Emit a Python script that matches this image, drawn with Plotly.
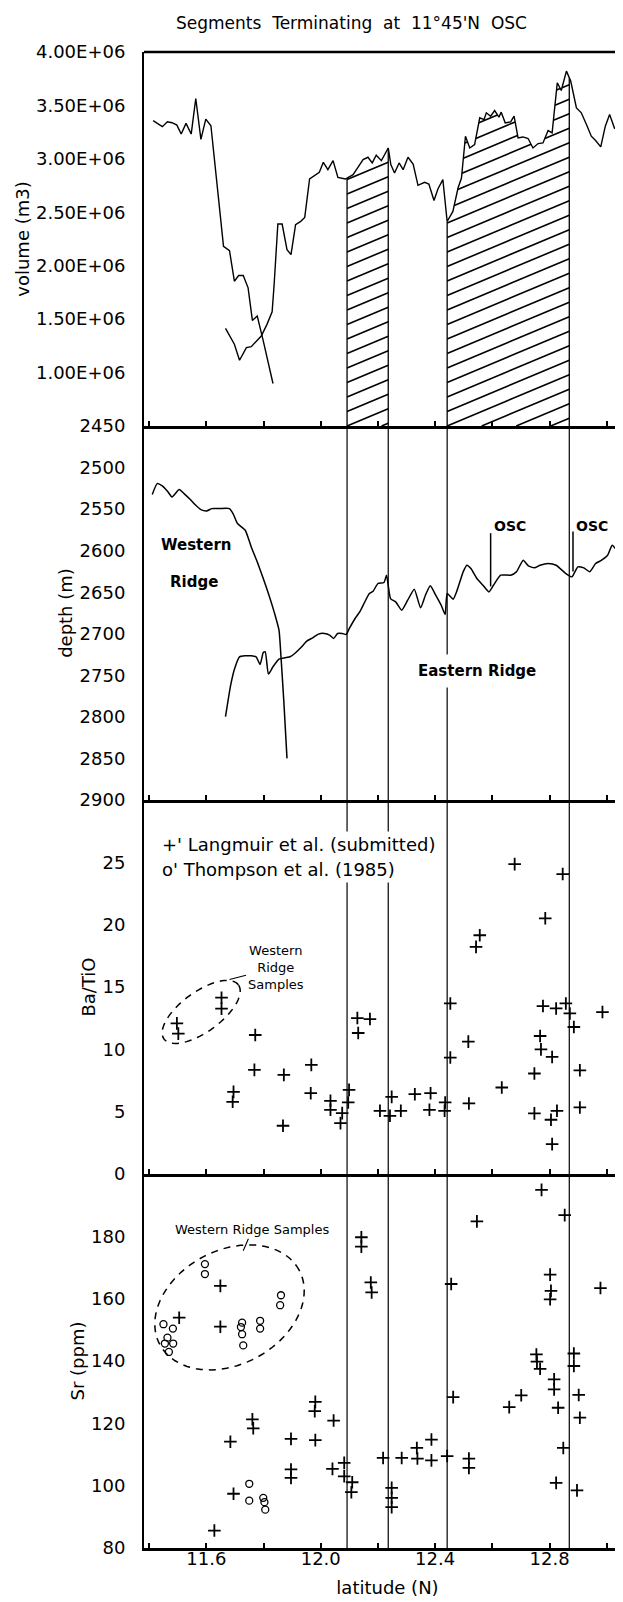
import numpy as np
import plotly.graph_objects as go
from plotly.subplots import make_subplots

# ---------------- data ----------------
# Panel 1: volume (m3) along the western and eastern ridge segments
WV_LAT = [11.414, 11.446, 11.464, 11.480, 11.497, 11.512, 11.529, 11.547, 11.563, 11.581,
          11.598, 11.616, 11.660, 11.681, 11.698, 11.713, 11.729, 11.746, 11.761, 11.778,
          11.799, 11.833]
WV_VOL = [3.357, 3.301, 3.347, 3.338, 3.316, 3.232, 3.332, 3.232, 3.565, 3.182,
          3.372, 3.310, 2.182, 2.141, 1.855, 1.908, 1.908, 1.793, 1.488, 1.529,
          1.296, 0.898]

EV_LAT = [11.667, 11.698, 11.716, 11.740, 11.757, 11.774, 11.792, 11.812, 11.830, 11.837,
          11.850, 11.865, 11.882, 11.896, 11.912, 11.930, 11.944, 11.961, 11.979, 11.995,
          12.009, 12.025, 12.043, 12.060, 12.086, 12.113, 12.130, 12.148, 12.165, 12.180,
          12.194, 12.212, 12.236, 12.245, 12.258, 12.274, 12.288, 12.305, 12.323, 12.340,
          12.363, 12.378, 12.396, 12.410, 12.427, 12.442, 12.462, 12.480, 12.492, 12.506,
          12.521, 12.538, 12.556, 12.571, 12.579, 12.594, 12.608, 12.623, 12.631, 12.645,
          12.664, 12.676, 12.690, 12.707, 12.725, 12.742, 12.760, 12.777, 12.795, 12.809,
          12.827, 12.841, 12.859, 12.874, 12.894, 12.911, 12.929, 12.946, 12.961, 12.979,
          12.995, 13.010, 13.028]
EV_VOL = [1.414, 1.265, 1.115, 1.233, 1.243, 1.296, 1.342, 1.451, 1.569, 1.824,
          2.390, 2.390, 2.150, 2.104, 2.384, 2.415, 2.452, 2.813, 2.850, 2.875,
          2.968, 2.899, 2.983, 2.827, 2.811, 2.852, 2.921, 2.993, 3.015, 2.962,
          3.034, 2.983, 3.102, 2.946, 2.868, 2.962, 2.899, 3.015, 2.952, 2.752,
          2.780, 2.765, 2.611, 2.721, 2.805, 2.414, 2.508, 2.727, 2.821, 3.212,
          3.102, 3.133, 3.384, 3.368, 3.431, 3.399, 3.452, 3.390, 3.437, 3.337,
          3.346, 3.399, 3.196, 3.205, 3.190, 3.102, 3.143, 3.149, 3.265, 3.243,
          3.712, 3.640, 3.821, 3.728, 3.477, 3.431, 3.321, 3.212, 3.171, 3.112,
          3.306, 3.415, 3.280]

# Segment boundaries (latitude) of the hatched segments
SEG_BOUNDS = [12.092, 12.236, 12.442, 12.869]

# Panel 2: depth (m)
DW_LAT = [11.411, 11.428, 11.446, 11.464, 11.480, 11.505, 11.522, 11.543, 11.563, 11.581,
          11.601, 11.619, 11.646, 11.681, 11.695, 11.709, 11.736, 11.757, 11.778, 11.799,
          11.819, 11.837, 11.854, 11.861, 11.871, 11.882]
DW_DEPTH = [2532.5, 2519.3, 2522.1, 2528.5, 2535.4, 2526.5, 2531.3, 2538.2, 2545.4, 2550.6,
            2552.2, 2549.4, 2549.4, 2549.4, 2556.6, 2567.4, 2575.4, 2595.5, 2613.5, 2633.5,
            2653.6, 2673.6, 2695.6, 2727.7, 2781.8, 2849.9]

DE_LAT = [11.667, 11.685, 11.699, 11.716, 11.736, 11.757, 11.774, 11.788, 11.799, 11.806,
          11.817, 11.833, 11.854, 11.875, 11.893, 11.909, 11.930, 11.951, 11.972, 11.992,
          12.013, 12.031, 12.045, 12.059, 12.075, 12.089, 12.100, 12.120, 12.138, 12.154,
          12.170, 12.183, 12.200, 12.221, 12.230, 12.244, 12.262, 12.283, 12.304, 12.327,
          12.349, 12.366, 12.383, 12.401, 12.421, 12.435, 12.442, 12.463, 12.477, 12.498,
          12.511, 12.525, 12.546, 12.567, 12.588, 12.604, 12.629, 12.664, 12.684, 12.708,
          12.726, 12.747, 12.767, 12.795, 12.823, 12.857, 12.878, 12.899, 12.920, 12.940,
          12.961, 12.982, 13.003, 13.019, 13.030]
DE_DEPTH = [2799.8, 2761.8, 2741.7, 2727.7, 2726.5, 2726.5, 2727.7, 2736.9, 2722.5, 2721.7,
            2748.5, 2739.7, 2730.5, 2728.9, 2727.7, 2723.7, 2716.9, 2708.9, 2704.8, 2700.4,
            2699.6, 2701.6, 2705.6, 2699.6, 2699.6, 2700.8, 2693.6, 2681.6, 2672.8, 2661.6,
            2651.6, 2648.8, 2639.5, 2638.3, 2629.5, 2657.6, 2661.6, 2671.6, 2659.6, 2646.3,
            2668.8, 2653.6, 2642.3, 2652.8, 2665.6, 2676.8, 2651.6, 2658.4, 2647.5, 2625.5,
            2617.5, 2621.5, 2633.5, 2641.5, 2649.6, 2641.5, 2629.5, 2629.5, 2625.5, 2611.5,
            2618.3, 2620.7, 2617.5, 2615.5, 2617.5, 2627.5, 2631.5, 2619.5, 2620.7, 2625.5,
            2615.5, 2611.5, 2605.5, 2593.5, 2597.5]

# OSC markers (latitude, top depth, bottom depth)
OSC_LAT = [12.594, 12.882]
OSC_TOP = [2579, 2577]
OSC_BOT = [2643, 2625]

# Panel 3: Ba/TiO (Langmuir et al.)
BA_LAT = [11.497, 11.502, 11.653, 11.653, 11.695, 11.692, 11.771, 11.768, 11.871, 11.868,
          11.967, 11.965, 12.034, 12.034, 12.069, 12.075, 12.099, 12.096, 12.128, 12.131,
          12.172, 12.207, 12.242, 12.248, 12.280, 12.329, 12.384, 12.380, 12.433, 12.435,
          12.453, 12.453, 12.516, 12.518, 12.543, 12.556, 12.633, 12.678, 12.747, 12.747,
          12.767, 12.770, 12.777, 12.785, 12.805, 12.809, 12.809, 12.823, 12.826, 12.846,
          12.857, 12.871, 12.885, 12.906, 12.906, 12.985, 13.079, 13.079]
BA_VAL = [12.08, 11.26, 14.14, 13.26, 6.59, 5.79, 11.15, 8.35, 7.95, 3.87,
          8.75, 6.48, 5.87, 5.15, 4.08, 4.88, 6.75, 5.74, 12.51, 11.31,
          12.43, 5.07, 4.67, 6.19, 5.07, 6.40, 6.48, 5.15, 5.07, 5.74,
          13.68, 9.34, 10.62, 5.66, 18.22, 19.15, 6.94, 24.86, 8.06, 4.86,
          11.07, 10.00, 13.47, 20.51, 4.35, 9.39, 2.40, 13.28, 5.07, 24.06,
          13.68, 12.88, 11.79, 8.32, 5.34, 12.99, 9.34, 7.66]

# Panel 4: Sr (ppm) -- Langmuir et al. (+)
SRP_LAT = [11.505, 11.649, 11.649, 11.628, 11.684, 11.695, 11.761, 11.764, 11.896, 11.896,
           11.896, 11.981, 11.979, 11.981, 12.045, 12.041, 12.082, 12.082, 12.110, 12.107,
           12.142, 12.142, 12.175, 12.178, 12.218, 12.248, 12.248, 12.248, 12.283, 12.336,
           12.338, 12.387, 12.387, 12.442, 12.456, 12.463, 12.518, 12.518, 12.546, 12.659,
           12.701, 12.754, 12.756, 12.767, 12.772, 12.802, 12.805, 12.802, 12.816, 12.816,
           12.830, 12.823, 12.848, 12.853, 12.885, 12.885, 12.902, 12.906, 12.896, 12.978,
           13.079, 13.079]
SRP_VAL = [153.9, 164.1, 151.0, 85.6, 114.1, 97.4, 121.3, 118.4, 115.0, 105.2,
           102.5, 126.9, 123.9, 114.6, 120.9, 105.4, 107.3, 103.0, 101.1, 97.9,
           179.7, 176.7, 165.2, 162.0, 108.9, 99.3, 96.1, 93.1, 108.9, 112.1,
           108.7, 114.8, 108.1, 109.5, 164.7, 128.4, 108.7, 105.7, 184.8, 125.2,
           129.0, 142.1, 139.8, 137.5, 194.9, 167.7, 162.5, 159.8, 134.1, 130.9,
           125.0, 100.9, 112.1, 186.8, 142.4, 138.4, 129.1, 121.8, 98.5, 163.4,
           140.8, 123.2]

# Panel 4: Sr (ppm) -- Thompson et al. 1985 (o)
SRO_LAT = [11.450, 11.455, 11.464, 11.469, 11.483, 11.484, 11.595, 11.595, 11.725, 11.721,
           11.725, 11.729, 11.788, 11.788, 11.861, 11.858, 11.750, 11.750, 11.799, 11.803,
           11.806]
SRO_VAL = [151.8, 145.6, 147.5, 142.9, 150.4, 145.6, 171.1, 167.9, 152.3, 150.9,
           148.6, 145.0, 152.9, 150.4, 161.1, 157.9, 100.6, 95.2, 96.1, 94.7,
           92.3]

# Tick labels
X_TICKS = [11.4, 11.6, 11.8, 12.0, 12.2, 12.4, 12.6, 12.8, 13.0]
X_TICKTEXT = ["", "11.6", "", "12.0", "", "12.4", "", "12.8", ""]
VOL_TICKS = [1.0e6, 1.5e6, 2.0e6, 2.5e6, 3.0e6, 3.5e6, 4.0e6]
DEPTH_TICKS = [2450, 2500, 2550, 2600, 2650, 2700, 2750, 2800, 2850, 2900]
BA_TICKS = [0, 5, 10, 15, 20, 25]
SR_TICKS = [80, 100, 120, 140, 160, 180]

# ---------------- layout geometry ----------------
W, H = 623, 1602
ML, MR, MT, MB = 136, 0, 44, 62
PLOT_W = W - ML - MR
PLOT_H = H - MT - MB
PANEL_H = PLOT_H / 4.0
X_RANGE = [11.382, 11.382 + PLOT_W / 286.0]
VOL_RANGE = [0.5e6, 4.0e6]
DEPTH_RANGE = [2900, 2450]
BA_RANGE = [0, 30]
SR_RANGE = [80, 200]

PX_LAT = PLOT_W / (X_RANGE[1] - X_RANGE[0])
PX_VOL = PANEL_H / (VOL_RANGE[1] - VOL_RANGE[0])
PX_BA = PANEL_H / (BA_RANGE[1] - BA_RANGE[0])
PX_SR = PANEL_H / (SR_RANGE[1] - SR_RANGE[0])

FONT = "DejaVu Sans"
BLACK = "black"

wv_vol = [v * 1e6 for v in WV_VOL]
ev_vol = [v * 1e6 for v in EV_VOL]

fig = make_subplots(rows=4, cols=1, shared_xaxes=True, vertical_spacing=0)

# ---- panel 1 ----
fig.add_trace(go.Scatter(x=WV_LAT, y=wv_vol, mode="lines",
                         line=dict(color=BLACK, width=1.4), showlegend=False), row=1, col=1)
fig.add_trace(go.Scatter(x=EV_LAT, y=ev_vol, mode="lines",
                         line=dict(color=BLACK, width=1.4), showlegend=False), row=1, col=1)


def hatch(xa, xb, slope_px=0.42, spacing_px=14.5, n=1500):
    slope = slope_px * PX_LAT / PX_VOL
    spacing = spacing_px / PX_VOL
    ybot = VOL_RANGE[0]
    xs = np.linspace(xa, xb, n)
    top = np.interp(xs, EV_LAT, ev_vol)
    kmin = -int(np.ceil(slope * (xb - xa) / spacing)) - 1
    kmax = int(np.ceil((top.max() - ybot) / spacing)) + 1
    hx, hy = [], []
    for k in range(kmin, kmax + 1):
        ys = ybot + k * spacing + slope * (xs - xa)
        mask = (ys >= ybot) & (ys <= top)
        idx = np.flatnonzero(mask)
        if idx.size == 0:
            continue
        brk = np.where(np.diff(idx) > 1)[0]
        starts = np.r_[idx[0], idx[brk + 1]]
        ends = np.r_[idx[brk], idx[-1]]
        for s, e in zip(starts, ends):
            if e > s:
                hx += [xs[s], xs[e], None]
                hy += [ys[s], ys[e], None]
    return hx, hy


for xa, xb in [(SEG_BOUNDS[0], SEG_BOUNDS[1]), (SEG_BOUNDS[2], SEG_BOUNDS[3])]:
    hx, hy = hatch(xa, xb)
    fig.add_trace(go.Scatter(x=hx, y=hy, mode="lines", connectgaps=False,
                             line=dict(color=BLACK, width=1.6), showlegend=False,
                             hoverinfo="skip"), row=1, col=1)

shapes = []
for b in SEG_BOUNDS:
    top_v = float(np.interp(b, EV_LAT, ev_vol))
    shapes.append(dict(type="line", xref="x", yref="y", x0=b, x1=b,
                       y0=VOL_RANGE[0], y1=top_v, line=dict(color=BLACK, width=1.3)))
    shapes.append(dict(type="line", xref="x", yref="paper", x0=b, x1=b,
                       y0=0, y1=0.75, line=dict(color=BLACK, width=1.2)))
# top border
shapes.append(dict(type="line", xref="paper", yref="paper", x0=0, x1=1, y0=1, y1=1,
                   line=dict(color=BLACK, width=2.5)))

# ---- panel 2 ----
fig.add_trace(go.Scatter(x=DW_LAT, y=DW_DEPTH, mode="lines", line_shape="spline",
                         line=dict(color=BLACK, width=1.5, smoothing=0.5),
                         showlegend=False), row=2, col=1)
fig.add_trace(go.Scatter(x=DE_LAT, y=DE_DEPTH, mode="lines", line_shape="spline",
                         line=dict(color=BLACK, width=1.5, smoothing=0.5),
                         showlegend=False), row=2, col=1)
for xl, t, bt in zip(OSC_LAT, OSC_TOP, OSC_BOT):
    shapes.append(dict(type="line", xref="x2", yref="y2", x0=xl, x1=xl, y0=t, y1=bt,
                       line=dict(color=BLACK, width=1.5)))

# ---- panel 3 ----
fig.add_trace(go.Scatter(x=BA_LAT, y=BA_VAL, mode="markers", cliponaxis=True,
                         marker=dict(symbol="cross-thin", size=9, color=BLACK,
                                     line=dict(color=BLACK, width=1.8)),
                         showlegend=False), row=3, col=1)

# ---- panel 4 ----
fig.add_trace(go.Scatter(x=SRP_LAT, y=SRP_VAL, mode="markers", cliponaxis=True,
                         marker=dict(symbol="cross-thin", size=9, color=BLACK,
                                     line=dict(color=BLACK, width=1.8)),
                         showlegend=False), row=4, col=1)
fig.add_trace(go.Scatter(x=SRO_LAT, y=SRO_VAL, mode="markers", cliponaxis=True,
                         marker=dict(symbol="circle-open", size=7, color=BLACK,
                                     line=dict(color=BLACK, width=1.3)),
                         showlegend=False), row=4, col=1)


def ellipse_path(c_lat, c_val, a_px, b_px, ang_deg, px_y):
    th = np.radians(ang_deg)
    t = np.linspace(0, 2 * np.pi, 90)
    du = a_px * np.cos(t)
    dv = b_px * np.sin(t)
    dx = du * np.cos(th) - dv * np.sin(th)
    dy = du * np.sin(th) + dv * np.cos(th)
    lats = c_lat + dx / PX_LAT
    vals = c_val + dy / px_y
    return "M " + " L ".join(f"{x:.5f},{y:.4f}" for x, y in zip(lats, vals)) + " Z"


shapes.append(dict(type="path", xref="x3", yref="y3",
                   path=ellipse_path(11.582, 13.0, 46, 20, 36, PX_BA),
                   line=dict(color=BLACK, width=1.5, dash="7px,6px")))
shapes.append(dict(type="path", xref="x4", yref="y4",
                   path=ellipse_path(11.681, 157.2, 79, 57, 28, PX_SR),
                   line=dict(color=BLACK, width=1.5, dash="7px,6px")))

fig.update_layout(shapes=shapes)

# ---------------- axes ----------------
for i in range(1, 5):
    fig.update_xaxes(row=i, col=1, range=X_RANGE, tickvals=X_TICKS, ticktext=X_TICKTEXT,
                     ticks="inside", ticklen=5, tickwidth=1.5, tickcolor=BLACK,
                     showline=True, linewidth=3, linecolor=BLACK, mirror=False,
                     showgrid=False, zeroline=False, showticklabels=(i == 4),
                     ticklabelstandoff=-8,
                     tickfont=dict(family=FONT, size=18, color=BLACK))

fig.update_xaxes(row=4, col=1, title=dict(text="latitude (N)", standoff=14,
                                          font=dict(family=FONT, size=18, color=BLACK)))

ycommon = dict(showline=True, linewidth=2, linecolor=BLACK, showgrid=False, zeroline=False,
               ticks="", ticklabelstandoff=13, tickfont=dict(family=FONT, size=18, color=BLACK))
ytitle_font = dict(family=FONT, size=18, color=BLACK)
fig.update_yaxes(row=1, col=1, range=VOL_RANGE, tickvals=VOL_TICKS,
                 ticktext=[f"{v:.2E}" for v in VOL_TICKS],
                 title=dict(text="volume (m3)", standoff=2, font=ytitle_font), **ycommon)
fig.update_yaxes(row=2, col=1, range=DEPTH_RANGE, tickvals=DEPTH_TICKS,
                 ticktext=[str(v) for v in DEPTH_TICKS],
                 title=dict(text="depth (m)", standoff=2, font=ytitle_font), **ycommon)
fig.update_yaxes(row=3, col=1, range=BA_RANGE, tickvals=BA_TICKS,
                 ticktext=[str(v) for v in BA_TICKS],
                 title=dict(text="Ba/TiO", standoff=2, font=ytitle_font), **ycommon)
fig.update_yaxes(row=4, col=1, range=SR_RANGE, tickvals=SR_TICKS,
                 ticktext=[str(v) for v in SR_TICKS],
                 title=dict(text="Sr (ppm)", standoff=2, font=ytitle_font), **ycommon)

# ---------------- annotations ----------------
ann = []
nb = "\u00a0"
ann.append(dict(xref="paper", yref="paper", x=0.427, y=1 + 29.0 / PLOT_H,
                xanchor="center", yanchor="middle", showarrow=False,
                text=f"Segments{nb}{nb}Terminating{nb}{nb}at{nb}{nb}11°45'N{nb}{nb}OSC",
                font=dict(family=FONT, size=17, color=BLACK)))
# panel 2 labels
ann.append(dict(xref="x2", yref="y2", x=11.565, y=2593.5, text="<b>Western</b>", showarrow=False,
                font=dict(family=FONT, size=15, color=BLACK)))
ann.append(dict(xref="x2", yref="y2", x=11.556, y=2637.5, text="<b>Ridge</b>", showarrow=False,
                font=dict(family=FONT, size=15, color=BLACK)))
ann.append(dict(xref="x2", yref="y2", x=12.546, y=2745, text="<b>Eastern Ridge</b>",
                showarrow=False, bgcolor="white", borderpad=7,
                font=dict(family=FONT, size=15, color=BLACK)))
for xl in OSC_LAT:
    ann.append(dict(xref="x2", yref="y2", x=xl + 0.004, y=2570, text="<b>OSC</b>",
                    xanchor="left", showarrow=False,
                    font=dict(family=FONT, size=14, color=BLACK)))
# panel 3 legend text
ann.append(dict(xref="x3", yref="y3", x=11.436, y=26.4, xanchor="left",
                text="+' Langmuir et al. (submitted)", showarrow=False,
                bgcolor="white", borderpad=2, font=dict(family=FONT, size=18, color=BLACK)))
ann.append(dict(xref="x3", yref="y3", x=11.436, y=24.45, xanchor="left",
                text="o' Thompson et al. (1985)", showarrow=False,
                bgcolor="white", borderpad=2, font=dict(family=FONT, size=18, color=BLACK)))
# western ridge samples labels
ann.append(dict(xref="x3", yref="y3", x=11.681, y=15.6, text="Western<br>Ridge<br>Samples",
                showarrow=True, arrowhead=0, arrowwidth=1.1, arrowcolor=BLACK,
                ax=46, ay=-12, align="center",
                font=dict(family=FONT, size=13, color=BLACK)))
ann.append(dict(xref="x4", yref="y4", x=11.729, y=175.4, text="Western Ridge Samples",
                showarrow=True, arrowhead=0, arrowwidth=1.1, arrowcolor=BLACK,
                ax=9, ay=-21, font=dict(family=FONT, size=13, color=BLACK)))

fig.update_layout(annotations=ann, width=W, height=H,
                  margin=dict(l=ML, r=MR, t=MT, b=MB, autoexpand=False),
                  plot_bgcolor="white", paper_bgcolor="white", showlegend=False,
                  font=dict(family=FONT, color=BLACK))

fig.write_html("out.html")
